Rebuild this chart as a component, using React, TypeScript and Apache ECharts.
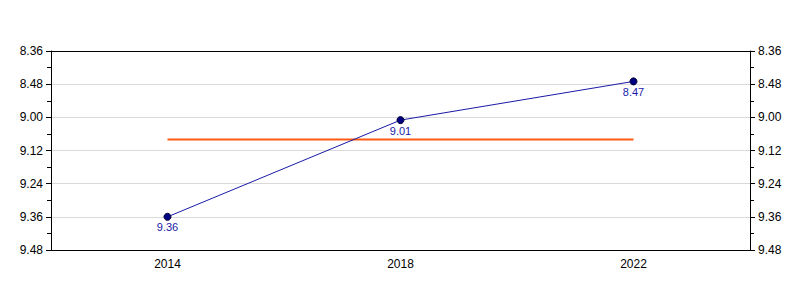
import React, { useEffect, useRef } from "react";
import * as echarts from "echarts";

const years = ["2014", "2018", "2022"];
// times in seconds (m:ss shown as m.ss)
const times = [576, 541, 527];
const reference = [548, 548, 548];
const yMin = 516;
const yMax = 588;
const yStep = 12;

const fmt = (v: number) => {
  const m = Math.floor(v / 60);
  const s = Math.round(v - m * 60);
  return m + "." + (s < 10 ? "0" + s : String(s));
};

const yAxisBase = (position: "left" | "right") => ({
  type: "value" as const,
  position,
  inverse: true,
  min: yMin,
  max: yMax,
  interval: yStep,
  axisLine: { show: true, lineStyle: { color: "#000", width: 1 } },
  axisTick: { show: true, length: 5, lineStyle: { color: "#000" } },
  minorTick: { show: true, splitNumber: 2, length: 4, lineStyle: { color: "#000" } },
  axisLabel: {
    formatter: (v: number) => fmt(v),
    color: "#000",
    fontFamily: "Liberation Sans, Arial, sans-serif",
    fontSize: 12,
    margin: 8,
  },
  splitLine: { show: position === "left", lineStyle: { color: "#d9d9d9", width: 1 } },
});

export default function App() {
  const ref = useRef<HTMLDivElement>(null);
  useEffect(() => {
    if (!ref.current) return;
    const chart = echarts.init(ref.current, null, { renderer: "svg" });
    chart.setOption({
      animation: false,
      backgroundColor: "#fff",
      grid: {
        left: 51,
        right: 50,
        top: 51,
        bottom: 50,
      },
      xAxis: [
        {
          type: "category",
          data: years,
          boundaryGap: true,
          position: "bottom",
          axisLine: { lineStyle: { color: "#000", width: 1 } },
          axisTick: { alignWithLabel: true, length: 5, lineStyle: { color: "#000" } },
          axisLabel: {
            color: "#000",
            fontFamily: "Liberation Sans, Arial, sans-serif",
            fontSize: 12,
            margin: 8,
          },
          splitLine: { show: false },
        },
        {
          type: "category",
          data: years,
          boundaryGap: true,
          position: "top",
          axisLine: { show: true, lineStyle: { color: "#000", width: 1 } },
          axisTick: { show: false },
          axisLabel: { show: false },
          splitLine: { show: false },
        },
      ],
      yAxis: [yAxisBase("left"), yAxisBase("right")],
      series: [
        {
          type: "line",
          data: reference,
          yAxisIndex: 0,
          symbol: "none",
          lineStyle: { color: "#ff5a14", width: 2 },
          z: 2,
        },
        {
          type: "line",
          data: times,
          yAxisIndex: 0,
          symbol: "circle",
          symbolSize: 7,
          itemStyle: { color: "#000080", borderColor: "#000033", borderWidth: 1 },
          lineStyle: { color: "#1a1aa8", width: 1 },
          label: {
            show: true,
            position: "bottom",
            distance: 1,
            formatter: (p: any) => fmt(p.value),
            color: "#1a1aa8",
            fontFamily: "Liberation Sans, Arial, sans-serif",
            fontSize: 11,
          },
          z: 3,
        },
      ],
    });
    return () => chart.dispose();
  }, []);
  return <div ref={ref} style={{ width: 800, height: 300, margin: -8 }} />;
}
